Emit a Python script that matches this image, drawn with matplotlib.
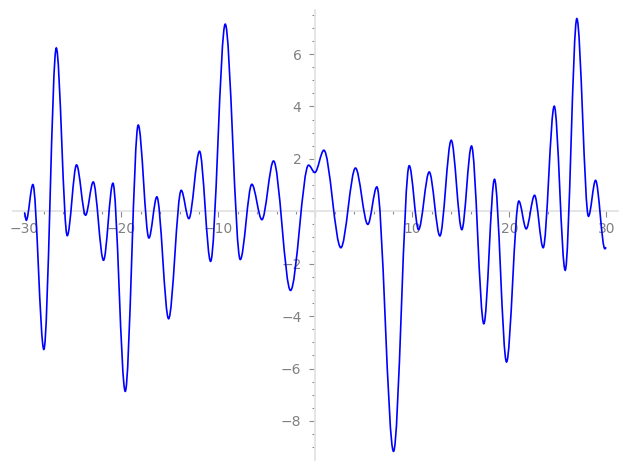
import matplotlib
matplotlib.use("Agg")
import matplotlib.pyplot as plt
from matplotlib.path import Path
from matplotlib.patches import PathPatch
from matplotlib.ticker import MultipleLocator, FuncFormatter

# Points: curve ends and all local extrema
x_pts = [-30.0, -29.8, -29.12, -27.99, -26.71, -25.58, -24.62, -23.69, -22.9,
         -21.84, -20.87, -19.6, -18.26, -17.16, -16.34, -15.13, -13.83, -13.04,
         -11.94, -10.8, -9.29, -7.74, -6.55, -5.51, -4.31, -2.56, -0.70, -0.05,
         0.88, 2.63, 4.14, 5.41, 6.34, 8.06, 9.68, 10.64, 11.74, 12.84, 14.01,
         15.1, 16.1, 17.37, 18.47, 19.71, 20.98, 21.74, 22.6, 23.49, 24.63,
         25.76, 26.96, 28.16, 28.89, 29.85, 30.0]
y_pts = [-0.05, -0.34, 1.02, -5.27, 6.23, -0.93, 1.77, -0.15, 1.12,
         -1.87, 1.07, -6.87, 3.29, -1.02, 0.55, -4.1, 0.8, -0.28,
         2.29, -1.91, 7.14, -1.84, 1.03, -0.32, 1.92, -3.02, 1.76, 1.48,
         2.33, -1.39, 1.65, -0.5, 0.93, -9.16, 1.74, -0.7, 1.5, -0.94, 2.71,
         -0.7, 2.49, -4.29, 1.22, -5.75, 0.39, -0.67, 0.61, -1.39, 4.01,
         -2.25, 7.35, -0.19, 1.18, -1.43, -1.38]

x_major, x_minor = 10, 2
y_major, y_minor = 2, 0.5

fig = plt.figure(figsize=(6.27, 4.70), dpi=100)
ax = fig.add_axes([0.0203, 0.0213, 0.9653, 0.9574])

# smooth rendering through the read points (horizontal tangents at extrema)
verts = [(x_pts[0], y_pts[0])]
codes = [Path.MOVETO]
for i in range(len(x_pts) - 1):
    x0, y0, x1, y1 = x_pts[i], y_pts[i], x_pts[i + 1], y_pts[i + 1]
    d = (x1 - x0) / 3.0
    verts += [(x0 + d, y0), (x1 - d, y1), (x1, y1)]
    codes += [Path.CURVE4] * 3
ax.add_patch(PathPatch(Path(verts, codes), fill=False, edgecolor='#0000ff',
                       lw=1.2, transform=ax.transData, zorder=3))

xr = max(x_pts) - min(x_pts)
yr = max(y_pts) - min(y_pts)
ax.set_xlim(min(x_pts) - 0.02 * xr, max(x_pts) + 0.02 * xr)
ax.set_ylim(min(y_pts) - 0.02 * yr, max(y_pts) + 0.02 * yr)

for s in ['top', 'right']:
    ax.spines[s].set_visible(False)
for s in ['left', 'bottom']:
    ax.spines[s].set_position(('data', 0))
    ax.spines[s].set_color('#e3e3e3')
    ax.spines[s].set_linewidth(1.3)
ax.patch.set_alpha(0)

ax.xaxis.set_major_locator(MultipleLocator(x_major))
ax.xaxis.set_minor_locator(MultipleLocator(x_minor))
ax.yaxis.set_major_locator(MultipleLocator(y_major))
ax.yaxis.set_minor_locator(MultipleLocator(y_minor))
fmt = FuncFormatter(lambda v, p: '' if abs(v) < 1e-9 else ('\u2212%d' % -v if v < 0 else '%d' % v))
ax.xaxis.set_major_formatter(fmt)
ax.yaxis.set_major_formatter(fmt)

ax.tick_params(which='major', length=4, width=0.8, color='#8c8c8c',
               labelcolor='#808080', labelsize=10)
ax.tick_params(which='minor', length=2, width=0.8, color='#8c8c8c')
ax.tick_params(axis='x', which='major', pad=4)
ax.tick_params(axis='y', which='major', pad=6)

fig.savefig('out.png', dpi=100)
